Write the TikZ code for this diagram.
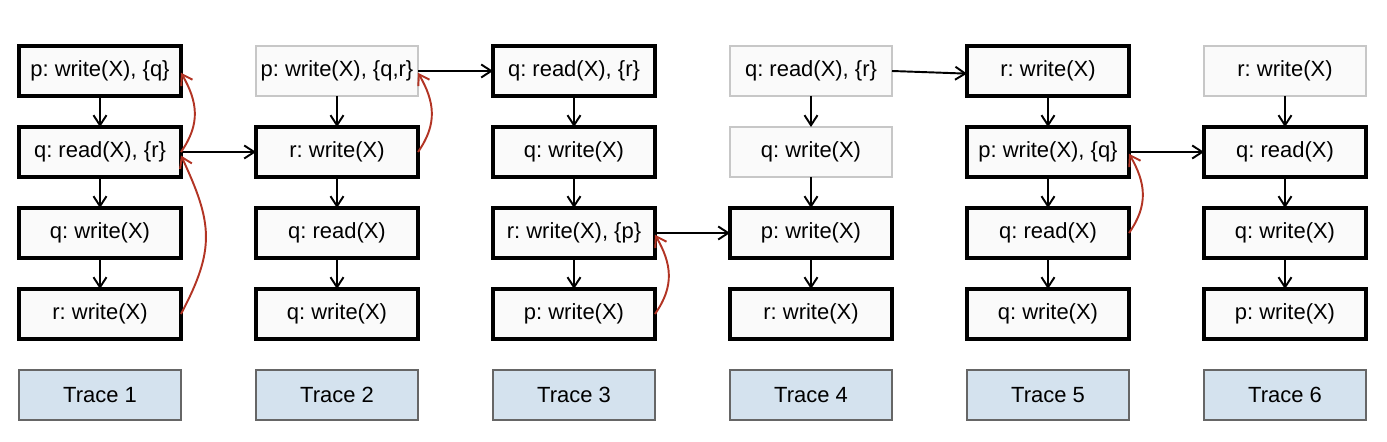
\documentclass[tikz,border=0pt]{standalone}
\usepackage{fontspec}
\setmainfont{Liberation Sans}
\usetikzlibrary{positioning,arrows.meta}
\frenchspacing

\definecolor{boxfill}{HTML}{FAFAFA}
\definecolor{tracefill}{HTML}{D4E2EE}
\definecolor{conflictred}{HTML}{B23424}

\tikzset{
  op/.style={draw, line width=1.9pt, fill=boxfill, minimum width=3.24cm, minimum height=1cm,
    inner sep=0pt, outer sep=0pt, font=\fontsize{12.5}{15}\selectfont},
  opfaint/.style={op, draw=black!22, line width=0.6pt},
  tracebox/.style={op, draw=black!60, line width=0.6pt, fill=tracefill},
  flow/.style={->, line width=1.1pt},
  conflict/.style={->, line width=1.1pt, draw=conflictred},
}

\begin{document}
\begin{tikzpicture}[>={Straight Barb[length=2mm,width=2.6mm]}, node distance=0.62cm]

  \useasboundingbox (0,0) rectangle (27.74,8.84);

  % Trace 1
  \node[op] (t1a) at (2.00,7.42) {p: write(X), \{q\}};
  \node[op, below=of t1a] (t1b) {q: read(X), \{r\}};
  \node[op, below=of t1b] (t1c) {q: write(X)};
  \node[op, below=of t1c] (t1d) {r: write(X)};
  \node[tracebox, below=of t1d] (trace1) {Trace 1};

  % Trace 2
  \node[opfaint] (t2a) at (6.74,7.42) {p: write(X), \{q,r\}};
  \node[op, below=of t2a] (t2b) {r: write(X)};
  \node[op, below=of t2b] (t2c) {q: read(X)};
  \node[op, below=of t2c] (t2d) {q: write(X)};
  \node[tracebox, below=of t2d] (trace2) {Trace 2};

  % Trace 3
  \node[op] (t3a) at (11.48,7.42) {q: read(X), \{r\}};
  \node[op, below=of t3a] (t3b) {q: write(X)};
  \node[op, below=of t3b] (t3c) {r: write(X), \{p\}};
  \node[op, below=of t3c] (t3d) {p: write(X)};
  \node[tracebox, below=of t3d] (trace3) {Trace 3};

  % Trace 4
  \node[opfaint] (t4a) at (16.22,7.42) {q: read(X), \{r\}};
  \node[opfaint, below=of t4a] (t4b) {q: write(X)};
  \node[op, below=of t4b] (t4c) {p: write(X)};
  \node[op, below=of t4c] (t4d) {r: write(X)};
  \node[tracebox, below=of t4d] (trace4) {Trace 4};

  % Trace 5
  \node[op] (t5a) at (20.96,7.42) {r: write(X)};
  \node[op, below=of t5a] (t5b) {p: write(X), \{q\}};
  \node[op, below=of t5b] (t5c) {q: read(X)};
  \node[op, below=of t5c] (t5d) {q: write(X)};
  \node[tracebox, below=of t5d] (trace5) {Trace 5};

  % Trace 6
  \node[opfaint] (t6a) at (25.70,7.42) {r: write(X)};
  \node[op, below=of t6a] (t6b) {q: read(X)};
  \node[op, below=of t6b] (t6c) {q: write(X)};
  \node[op, below=of t6c] (t6d) {p: write(X)};
  \node[tracebox, below=of t6d] (trace6) {Trace 6};

  % Programmfolge innerhalb jeder Spur
  \foreach \t in {1,...,6} {
    \draw[flow] (t\t a) -- (t\t b);
    \draw[flow] (t\t b) -- (t\t c);
    \draw[flow] (t\t c) -- (t\t d);
  }

  % Uebergaenge zwischen den Spuren
  \draw[flow] (t1b.east) -- (t2b.west);
  \draw[flow] (t2a.east) -- (t3a.west);
  \draw[flow] (t3c.east) -- (t4c.west);
  \draw[flow] (t4a.east) -- ([yshift=-1.5pt]t5a.west);
  \draw[flow] (t5b.east) -- (t6b.west);

  % Konflikte (rot)
  \draw[conflict] (t1b.east) to[out=55, in=-60, looseness=1.1] ([yshift=-1pt]t1a.east);
  \draw[conflict] (t1d.east) to[out=62, in=-65, looseness=1.2] ([yshift=-2pt]t1b.east);
  \draw[conflict] (t2b.east) to[out=55, in=-60, looseness=1.1] ([yshift=-1pt]t2a.east);
  \draw[conflict] (t3d.east) to[out=55, in=-60, looseness=1.1] ([yshift=-1pt]t3c.east);
  \draw[conflict] (t5c.east) to[out=55, in=-60, looseness=1.1] ([yshift=-1pt]t5b.east);

\end{tikzpicture}
\end{document}
